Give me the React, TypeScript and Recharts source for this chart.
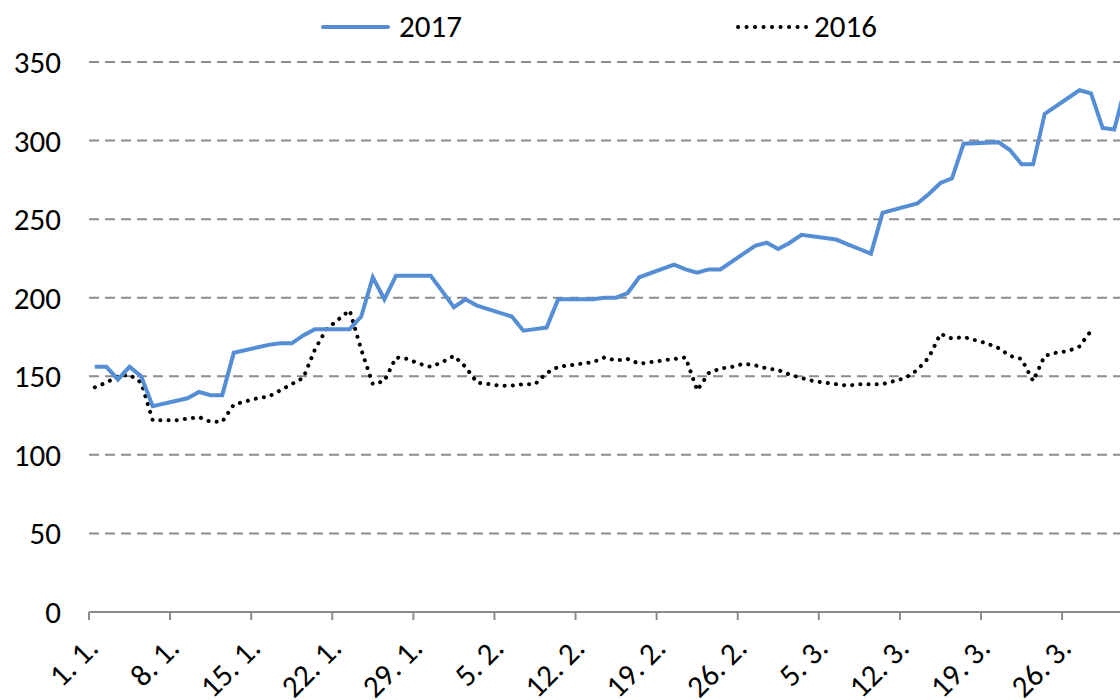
import React from 'react';
import { LineChart, Line, XAxis, YAxis, CartesianGrid, Legend, Text } from 'recharts';

// tick labels every 7 days, first one at 1. 1.
const tickLabels = ['1. 1.', '8. 1.', '15. 1.', '22. 1.', '29. 1.', '5. 2.', '12. 2.', '19. 2.', '26. 2.', '5. 3.', '12. 3.', '19. 3.', '26. 3.'];
const yTicks = [0, 50, 100, 150, 200, 250, 300, 350];

// 2017 – trading days only (day index from 1. 1.)
const days2017 = [
  0, 1, 2, 3, 4, 5, 8, 9, 10, 11, 12, 15, 16, 17, 18, 19, 22, 23, 24, 25, 26,
  29, 30, 31, 32, 33, 36, 37, 38, 39, 40, 43, 44, 45, 46, 47, 50, 51, 52, 53, 54,
  57, 58, 59, 60, 61, 64, 65, 66, 67, 68, 71, 72, 73, 74, 75, 78, 79, 80, 81, 82,
  85, 86, 87, 88, 89,
];
const values2017 = [
  156, 156, 148, 156, 150, 131, 136, 140, 138, 138, 165, 170, 171, 171, 176, 180, 180, 188, 213, 199, 214,
  214, 204, 194, 199, 195, 188, 179, 180, 181, 199, 199, 200, 200, 203, 213, 221, 218, 216, 218, 218,
  233, 235, 231, 235, 240, 237, 234, 231, 228, 254, 260, 266, 273, 276, 298, 299, 294, 285, 285, 317,
  332, 330, 308, 307, 335,
];

// 2016 – one value per day, starting 1. 1.
const values2016 = [
  143, 146, 150, 151, 146, 122, 122, 122, 123, 124, 121, 121, 132, 134, 136, 137, 141, 145, 149, 167,
  180, 186, 192, 167, 145, 147, 162, 161, 158, 156, 159, 163, 156, 146, 145, 144, 144, 145, 145, 152,
  156, 157, 158, 159, 162, 160, 161, 158, 159, 160, 161, 162, 141, 152, 155, 156, 158, 157, 155, 154,
  151, 149, 147, 146, 145, 144, 145, 145, 145, 147, 149, 154, 162, 177, 174, 175, 173, 171, 168, 163,
  161, 147, 163, 165, 166, 169, 179,
];

const data2017 = days2017.map((d, i) => ({ day: d, value: values2017[i] }));
const data2016 = values2016.map((v, i) => ({ day: i, value: v }));
const xTicks = tickLabels.map((_, i) => i * 7 - 0.5);

const FONT = "Calibri, Carlito, 'Open Sans', sans-serif";
const FS = 31;
const BLUE = '#558ED5';

const XTick = (props: any) => {
  const { x, y, payload } = props;
  const label = tickLabels[xTicks.indexOf(payload.value)];
  return (
    <Text
      x={x + 11}
      y={y + 28}
      angle={-45}
      textAnchor="end"
      verticalAnchor="end"
      fill="#000"
      fontSize={FS}
      fontFamily={FONT}
    >
      {label}
    </Text>
  );
};

const LegendBox = () => (
  <svg width={1120} height={50} style={{ display: 'block' }}>
    <line x1={323} y1={27} x2={388} y2={27} stroke={BLUE} strokeWidth={4} strokeLinecap="round" />
    <text x={399} y={37} fontSize={FS} fontFamily={FONT} fill="#000">2017</text>
    <line x1={738} y1={27} x2={806} y2={27} stroke="#000" strokeWidth={4} strokeDasharray="0.1 8.4" strokeLinecap="round" />
    <text x={814} y={37} fontSize={FS} fontFamily={FONT} fill="#000">2016</text>
  </svg>
);

export default function App() {
  return (
    <div style={{ position: 'absolute', left: 0, top: 0, background: '#fff' }}>
      <LineChart width={1120} height={700} margin={{ top: 12, right: 0, bottom: 0, left: 0 }}>
        <CartesianGrid vertical={false} stroke="#8c8c8c" strokeWidth={2} strokeDasharray="10 6" />
        <XAxis
          type="number"
          dataKey="day"
          domain={[-0.5, 88.5]}
          allowDataOverflow
          ticks={xTicks}
          interval={0}
          height={88}
          axisLine={{ stroke: '#8c8c8c', strokeWidth: 2 }}
          tickLine={{ stroke: '#8c8c8c', strokeWidth: 2 }}
          tickSize={8}
          tick={<XTick />}
        />
        <YAxis
          domain={[0, 350]}
          ticks={yTicks}
          width={89}
          axisLine={false}
          tickLine={false}
          tickSize={0}
          tickMargin={28}
          tick={{ fill: '#000', fontSize: FS, fontFamily: FONT }}
        />
        <Legend verticalAlign="top" wrapperStyle={{ top: 0, left: 0 }} content={() => <LegendBox />} />
        <Line
          data={data2016}
          dataKey="value"
          name="2016"
          stroke="#000"
          strokeWidth={4}
          strokeDasharray="0.1 8.1"
          strokeLinecap="round"
          dot={false}
          isAnimationActive={false}
        />
        <Line
          data={data2017}
          dataKey="value"
          name="2017"
          stroke={BLUE}
          strokeWidth={4}
          dot={false}
          isAnimationActive={false}
        />
      </LineChart>
    </div>
  );
}
